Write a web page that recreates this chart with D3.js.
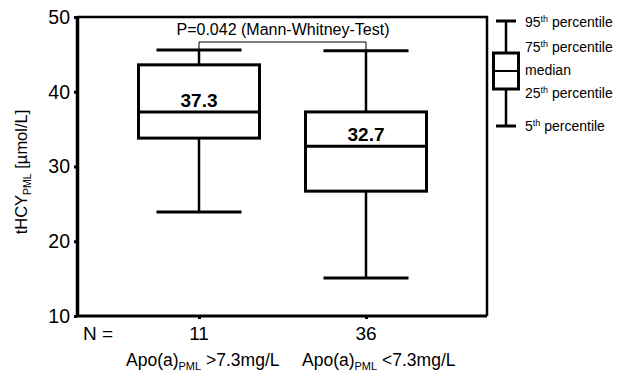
<!DOCTYPE html>
<html>
<head>
<meta charset="utf-8">
<script src="https://cdn.jsdelivr.net/npm/d3@7"></script>
<style>
  body { margin: 0; background: #fff; }
  svg { font-family: "Liberation Sans", Arial, sans-serif; }
</style>
</head>
<body>
<svg id="chart" width="621" height="371"></svg>
<script>
// data
var groups = ["g1", "g2"];
var nValues = [11, 36];
var p5 = [23.9, 15.1];
var p25 = [33.8, 26.7];
var medians = [37.3, 32.7];
var p75 = [43.6, 37.3];
var p95 = [45.6, 45.5];
var yTicks = [10, 20, 30, 40, 50];

var svg = d3.select('#chart');
var plotLeft = 77, plotRight = 487, plotTop = 17, plotBottom = 316;

var y = d3.scaleLinear().domain([10, 50]).range([plotBottom, plotTop]);
var x = d3.scalePoint().domain(groups).range([199, 366]);

var boxW = 121, capW = 85;

// frame (top + right)
svg.append('path')
    .attr('d', 'M' + plotLeft + ',' + plotTop + 'H' + plotRight + 'V' + plotBottom)
    .attr('fill', 'none')
    .attr('stroke', '#000')
    .attr('stroke-width', 2.5);

// y axis
var yAxis = svg.append('g')
    .attr('transform', 'translate(' + plotLeft + ',0)')
    .call(d3.axisLeft(y).tickValues(yTicks).tickSize(3).tickSizeOuter(0).tickPadding(4));
yAxis.select('.domain').attr('stroke-width', 3.5);
yAxis.selectAll('.tick line').attr('stroke-width', 3);
yAxis.selectAll('.tick text').attr('font-size', '19.5px').attr('fill', '#000').attr('font-family', 'Liberation Sans, Arial, sans-serif');

// x axis line
var xAxis = svg.append('g')
    .attr('transform', 'translate(0,' + plotBottom + ')')
    .call(d3.axisBottom(x).tickSize(3).tickFormat(''));
xAxis.select('.domain').attr('d', 'M' + (plotLeft - 1) + ',0H' + plotRight).attr('stroke-width', 3);
xAxis.selectAll('.tick line').attr('stroke-width', 3);

// p-value bracket
var bracketY = 42;
svg.append('path')
    .attr('d', 'M' + x('g1') + ',' + y(p95[0]) + 'V' + bracketY + 'H' + x('g2') + 'V' + y(p95[1]))
    .attr('fill', 'none')
    .attr('stroke', '#000')
    .attr('stroke-width', 1);
svg.append('text')
    .attr('x', 283)
    .attr('y', 35)
    .attr('text-anchor', 'middle')
    .attr('font-size', '16px')
    .text('P=0.042 (Mann-Whitney-Test)');

// boxes
var g = svg.selectAll('.box').data(groups).enter().append('g').attr('class', 'box');

g.append('line')
    .attr('x1', function(d) { return x(d); })
    .attr('x2', function(d) { return x(d); })
    .attr('y1', function(d, i) { return y(p95[i]); })
    .attr('y2', function(d, i) { return y(p5[i]); })
    .attr('stroke', '#000').attr('stroke-width', 2.5);

g.selectAll('.cap').data(function(d, i) { return [[d, p95[i]], [d, p5[i]]]; })
    .enter().append('line')
    .attr('x1', function(d) { return x(d[0]) - capW / 2; })
    .attr('x2', function(d) { return x(d[0]) + capW / 2; })
    .attr('y1', function(d) { return y(d[1]); })
    .attr('y2', function(d) { return y(d[1]); })
    .attr('stroke', '#000').attr('stroke-width', 3);

g.append('rect')
    .attr('x', function(d) { return x(d) - boxW / 2; })
    .attr('y', function(d, i) { return y(p75[i]); })
    .attr('width', boxW)
    .attr('height', function(d, i) { return y(p25[i]) - y(p75[i]); })
    .attr('fill', '#fff').attr('stroke', '#000').attr('stroke-width', 3);

g.append('line')
    .attr('x1', function(d) { return x(d) - boxW / 2; })
    .attr('x2', function(d) { return x(d) + boxW / 2; })
    .attr('y1', function(d, i) { return y(medians[i]); })
    .attr('y2', function(d, i) { return y(medians[i]); })
    .attr('stroke', '#000').attr('stroke-width', 3);

g.append('text')
    .attr('x', function(d) { return x(d); })
    .attr('y', function(d, i) { return y(medians[i]) - 5; })
    .attr('text-anchor', 'middle')
    .attr('font-size', '19px')
    .attr('font-weight', 'bold')
    .text(function(d, i) { return medians[i].toFixed(1); });

// N row
svg.append('text').attr('x', 83).attr('y', 340).attr('font-size', '19px').text('N =');
svg.selectAll('.nval').data(groups).enter().append('text')
    .attr('x', function(d) { return x(d); })
    .attr('y', 340)
    .attr('text-anchor', 'middle')
    .attr('font-size', '19px')
    .text(function(d, i) { return nValues[i]; });

// category labels
var catLabels = [['>7.3mg/L', 126], ['<7.3mg/L', 302]];
catLabels.forEach(function(c) {
    var t = svg.append('text').attr('x', c[1]).attr('y', 366).attr('font-size', '17.5px').attr('fill', '#000');
    t.append('tspan').text('Apo(a)');
    t.append('tspan').attr('font-size', '11px').attr('dy', 4).text('PML');
    t.append('tspan').attr('dy', -4).text(' ' + c[0]);
});

// y title
var yt = svg.append('text')
    .attr('transform', 'translate(27,172) rotate(-90)')
    .attr('text-anchor', 'middle')
    .attr('font-size', '16.5px');
yt.append('tspan').text('tHCY');
yt.append('tspan').attr('font-size', '10.5px').attr('dy', 4).text('PML');
yt.append('tspan').attr('dy', -4).text(' [\u00b5mol/L]');

// legend
var lx = 506, lw = 25, lcap = 20;
var leg = svg.append('g');
leg.append('line').attr('x1', lx).attr('x2', lx).attr('y1', 21).attr('y2', 126).attr('stroke', '#000').attr('stroke-width', 2.5);
leg.append('line').attr('x1', lx - lcap / 2).attr('x2', lx + lcap / 2).attr('y1', 21).attr('y2', 21).attr('stroke', '#000').attr('stroke-width', 3);
leg.append('line').attr('x1', lx - lcap / 2).attr('x2', lx + lcap / 2).attr('y1', 126).attr('y2', 126).attr('stroke', '#000').attr('stroke-width', 3);
leg.append('rect').attr('x', lx - lw / 2).attr('y', 53).attr('width', lw).attr('height', 36)
    .attr('fill', '#fff').attr('stroke', '#000').attr('stroke-width', 3);
leg.append('line').attr('x1', lx - lw / 2).attr('x2', lx + lw / 2).attr('y1', 71).attr('y2', 71).attr('stroke', '#000').attr('stroke-width', 2);

var legendItems = [['95', 'th', ' percentile', 27], ['75', 'th', ' percentile', 52], ['median', '', '', 75], ['25', 'th', ' percentile', 98], ['5', 'th', ' percentile', 131]];
legendItems.forEach(function(it) {
    var t = leg.append('text').attr('x', 525).attr('y', it[3]).attr('font-size', '14px');
    t.append('tspan').text(it[0]);
    if (it[1]) {
        t.append('tspan').attr('font-size', '9px').attr('dy', -5).text(it[1]);
        t.append('tspan').attr('dy', 5).text(it[2]);
    }
});
</script>
</body>
</html>
